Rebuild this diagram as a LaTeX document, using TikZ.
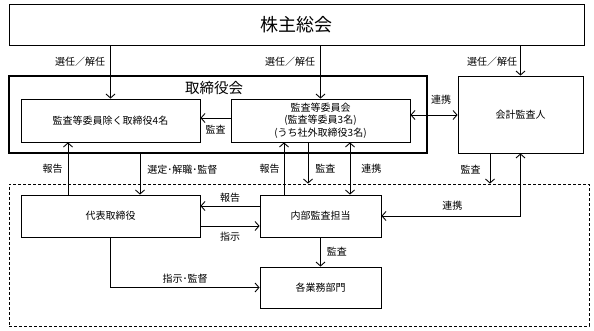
\documentclass[tikz,border=0pt]{standalone}
\usepackage{fontspec}
\setmainfont{Noto Sans CJK JP}
\usetikzlibrary{arrows.meta}
\begin{document}
\begin{tikzpicture}[x=1pt,y=-1pt,
 box/.style={draw, line width=0.8pt, rectangle, inner sep=0pt, font=\fontsize{10}{12.5}\selectfont, align=center},
 lbl/.style={font=\fontsize{10}{12}\selectfont, inner sep=1pt},
 arr/.style={line width=0.9pt, -{Straight Barb[length=4pt,width=9pt]}},
 darr/.style={line width=0.9pt, {Straight Barb[length=4pt,width=9pt]}-{Straight Barb[length=4pt,width=9pt]}}]
\useasboundingbox (0,0) rectangle (594,331);
% dashed area
\node[draw, line width=0.8pt, dash pattern=on 3pt off 2pt, minimum width=580pt, minimum height=142pt, inner sep=0pt] (area) at (299,255) {};
% top
\node[box, minimum width=575pt, minimum height=41pt, font=\fontsize{18}{20}\selectfont] (top) at (296.5,24.5) {株主総会};
% board
\node[draw, line width=2.5pt, minimum width=418pt, minimum height=77pt, inner sep=0pt] (board) at (218,114.5) {};
\node[font=\fontsize{14.5}{16}\selectfont, inner sep=0pt] (boardtitle) at (214,88) {取締役会};
\node[box, minimum width=179pt, minimum height=43pt] (box1) at (110.5,120.5) {監査等委員除く取締役4名};
\node[box, minimum width=179pt, minimum height=43pt] (box2) at (320.5,120.5) {監査等委員会\\(監査等委員3名)\\(うち社外取締役3名)};
\node[box, minimum width=125pt, minimum height=77pt] (kaikei) at (520.5,114.5) {会計監査人};
% lower boxes
\node[box, minimum width=179pt, minimum height=42pt] (daihyo) at (110.5,216) {代表取締役};
\node[box, minimum width=121pt, minimum height=42pt] (naibu) at (320.5,216) {内部監査担当};
\node[box, minimum width=121pt, minimum height=41pt] (gyomu) at (320.5,287.5) {各業務部門};
% arrows from top
\draw[arr] (top.south -| box1.north) -- node[lbl,pos=0.31,left=4pt]{選任／解任} (box1.north);
\draw[arr] (top.south -| box2.north) -- node[lbl,pos=0.31,left=4pt]{選任／解任} (box2.north);
\draw[arr] (top.south -| kaikei.north) -- node[lbl,pos=0.55,left=2pt]{選任／解任} (kaikei.north);
% board internal
\draw[arr] ([yshift=2.5pt]box2.west) -- node[lbl,below=6pt]{監査} ([yshift=2.5pt]box1.east);
\draw[darr] ([yshift=5.5pt]box2.east) -- node[lbl,above=9pt,xshift=7pt]{連携} ([yshift=5.5pt]box2.east -| kaikei.west);
% between board and lower
\draw[arr] ([xshift=-42.5pt]daihyo.north) -- node[lbl,pos=0.5,left=4pt]{報告} ([xshift=-42.5pt]daihyo.north |- box1.south);
\draw[arr] ([xshift=29.5pt]daihyo.north |- board.south) -- node[lbl,pos=0.38,right=6pt]{選定･解職･監督} ([xshift=29.5pt]daihyo.north);
\draw[arr] ([xshift=-36.5pt]naibu.north) -- node[lbl,pos=0.5,left=3pt]{報告} ([xshift=-36.5pt]naibu.north |- box2.south);
\draw[arr] ([xshift=-12.5pt]box2.south) -- node[lbl,pos=0.64,right=6pt]{監査} ([xshift=-12.5pt]box2.south |- area.north);
\draw[darr] ([xshift=29.5pt]box2.south) -- node[lbl,pos=0.5,right=10pt]{連携} ([xshift=29.5pt]box2.south |- naibu.north);
\draw[arr] ([xshift=-30.5pt]kaikei.south) -- node[lbl,pos=0.52,left=8pt]{監査} ([xshift=-30.5pt]kaikei.south |- area.north);
\draw[darr] (kaikei.south) |- node[lbl,pos=0.745,above=4pt]{連携} (naibu.east);
% lower
\draw[arr] ([yshift=10pt]naibu.west) -- node[lbl,above=2pt]{報告} ([yshift=10pt]naibu.west -| daihyo.east);
\draw[arr] ([yshift=-10pt]daihyo.east) -- node[lbl,below=5pt]{指示} ([yshift=-10pt]daihyo.east -| naibu.west);
\draw[arr] (daihyo.south) |- node[lbl,pos=0.75,above=3pt]{指示･監督} (gyomu.west);
\draw[arr] (naibu.south) -- node[lbl,pos=0.5,right=5pt]{監査} (gyomu.north);
\end{tikzpicture}
\end{document}
